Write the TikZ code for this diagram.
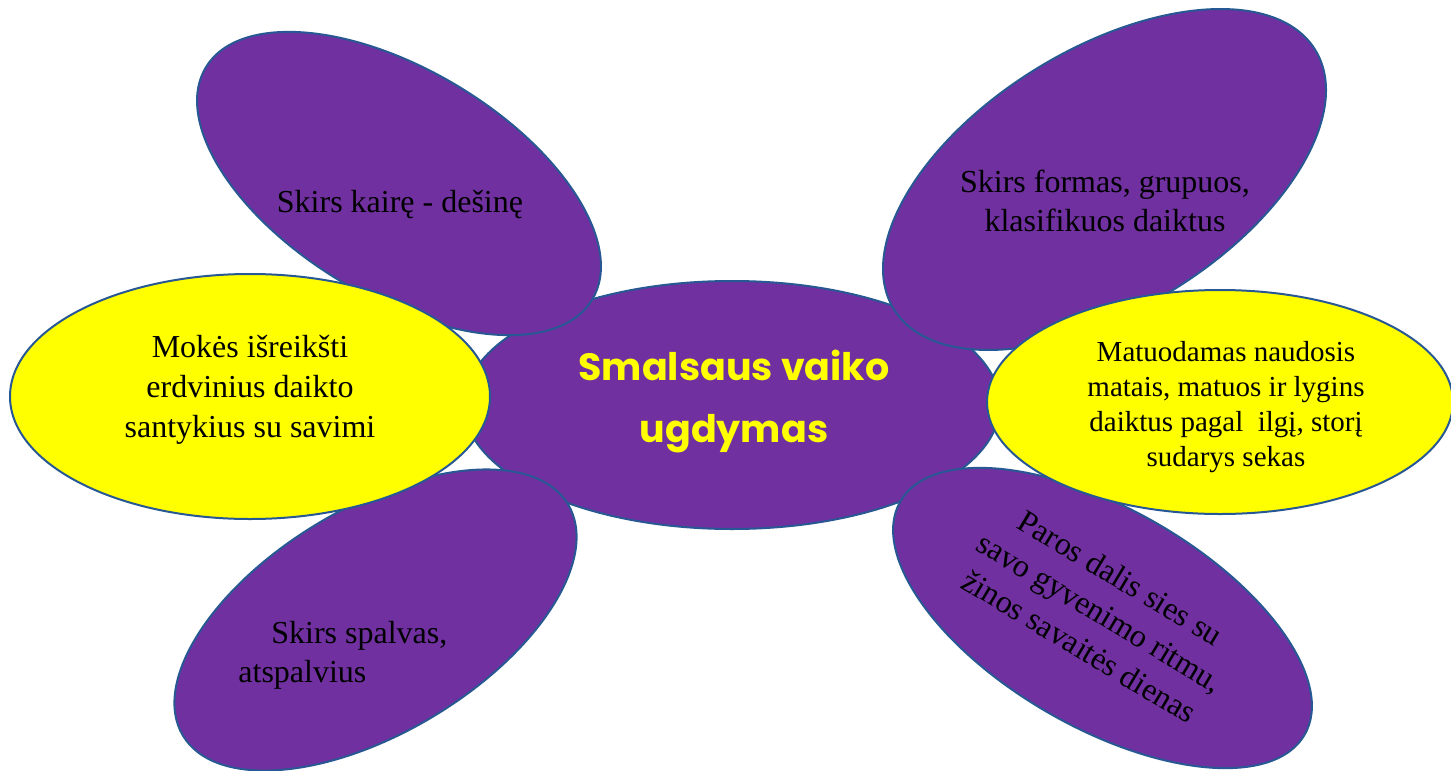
\documentclass[tikz,border=0pt]{standalone}
\usepackage{fontspec}
\setmainfont{Liberation Serif}
\newfontfamily\titlefont{Poppins}
\usetikzlibrary{shapes.geometric}
\definecolor{petal}{RGB}{112,48,160}
\definecolor{edgeblue}{RGB}{40,88,148}
\definecolor{lemon}{RGB}{255,255,0}
\tikzset{
  blob/.style={ellipse, draw=edgeblue, line width=1pt, inner sep=0pt, outer sep=0pt},
  purpleblob/.style={blob, fill=petal},
  yellowblob/.style={blob, fill=lemon},
  label16/.style={inner sep=0pt, align=center, font=\fontsize{16}{19.5}\selectfont, text=black},
}
\begin{document}
\begin{tikzpicture}[x=0.5pt,y=-0.5pt]
\useasboundingbox (0,0) rectangle (1451,771);
% centre
\node[purpleblob, minimum width=268pt, minimum height=124pt] (centre) at (732,405) {};
% petals
\node[purpleblob, minimum width=225.4pt, minimum height=113.8pt, rotate=-31] (tl) at (399,183.5) {};
\node[purpleblob, minimum width=224.6pt, minimum height=112.4pt, rotate=31] (bl) at (375.5,620) {};
\node[purpleblob, minimum width=247.4pt, minimum height=130pt, rotate=31.6] (tr) at (1104.5,179.5) {};
\node[purpleblob, minimum width=233.4pt, minimum height=109.1pt, rotate=-30] (br) at (1102.5,618) {};
% yellow
\node[yellowblob, minimum width=240pt, minimum height=122.5pt] (ly) at (250,396.5) {};
\node[yellowblob, minimum width=233pt, minimum height=112pt] (ry) at (1220,402) {};
% texts
\node[inner sep=0pt, align=center, text=lemon, font=\titlefont\bfseries\fontsize{19}{31}\selectfont] (ttitle) at (734,402) {Smalsaus vaiko\\ugdymas};
\node[label16] (ttl) at (400,205) {Skirs kairę - dešinę};
\node[label16] (ttr) at (1105,201) {Skirs formas, grupuos,\\klasifikuos daiktus};
\node[label16, align=left, anchor=west] (tbl) at (238,655) {\hspace*{16.5pt}Skirs spalvas,\\atspalvius};
\node[inner sep=0pt, align=center, font=\fontsize{16}{20}\selectfont] (tly) at (250,389.5) {Mokės išreikšti\\erdvinius daikto\\santykius su savimi};
\node[inner sep=0pt, align=center, font=\fontsize{14.5}{17.5}\selectfont] (try) at (1226,407.5) {Matuodamas naudosis\\matais, matuos ir lygins\\daiktus pagal~ ilgį, storį\\sudarys sekas};
\node[label16, font=\fontsize{16}{20}\selectfont, rotate=-31] (tbr) at (1100,612) {Paros dalis sies su\\savo gyvenimo ritmu,\\žinos savaitės dienas};
\end{tikzpicture}
\end{document}
